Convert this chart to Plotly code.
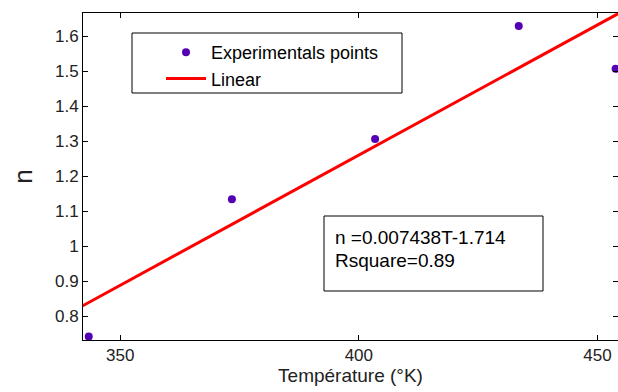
import plotly.graph_objects as go

# data
temperature = [343.4, 373.4, 403.4, 433.5, 453.8]
n_values = [0.743, 1.135, 1.307, 1.630, 1.508]
fit_slope = 0.007438
fit_intercept = -1.714
fit_T = [342, 455]
fit_n = [fit_slope * t + fit_intercept for t in fit_T]
x_ticks = [350, 400, 450]
y_ticks = [0.8, 0.9, 1.0, 1.1, 1.2, 1.3, 1.4, 1.5, 1.6]

FONT = "Liberation Sans, Arial, sans-serif"

# plot area at x 83..618, y 13..340 of the 618x392 page
W, H = 618, 392
L, R, T, B = 83, 0, 13, 52
PW, PH = W - L - R, H - T - B


def px_x(x):
    return (x - L) / PW


def px_y(y):
    return (H - B - y) / PH


fig = go.Figure()
fig.add_trace(go.Scatter(x=temperature, y=n_values, mode="markers",
                         name="Experimentals points",
                         marker=dict(color="#5400b4", size=8)))
fig.add_trace(go.Scatter(x=fit_T, y=fit_n, mode="lines", name="Linear",
                         line=dict(color="#ff0000", width=3)))

axis_common = dict(showline=True, linecolor="black", linewidth=1, mirror="ticks",
                   ticks="inside", ticklen=5, tickcolor="black", showgrid=False,
                   zeroline=False, automargin=False,
                   tickfont=dict(family=FONT, size=17, color="#222"))

fig.update_xaxes(range=[342.2, 454.3], tickvals=x_ticks, ticktext=[str(v) for v in x_ticks],
                 title=dict(text="Température (°K)", font=dict(family=FONT, size=19, color="#222"),
                            standoff=4),
                 **axis_common)
fig.update_yaxes(range=[0.733, 1.667], tickvals=y_ticks,
                 ticktext=[f"{v:g}" for v in y_ticks],
                 title=dict(text="n", font=dict(family=FONT, size=26, color="#222"), standoff=14),
                 **axis_common)

# legend frame
fig.add_shape(type="rect", xref="paper", yref="paper", x0=px_x(132), x1=px_x(402),
              y0=px_y(93), y1=px_y(33),
              line=dict(color="black", width=1), fillcolor="white", layer="below")
# text box
fig.add_shape(type="rect", xref="paper", yref="paper", x0=px_x(324), x1=px_x(543),
              y0=px_y(291), y1=px_y(216),
              line=dict(color="black", width=1))
fig.add_annotation(xref="paper", yref="paper", x=px_x(333), y=px_y(237), xanchor="left",
                   yanchor="middle", text="n =0.007438T-1.714", showarrow=False,
                   font=dict(family=FONT, size=19, color="black"))
fig.add_annotation(xref="paper", yref="paper", x=px_x(333), y=px_y(260), xanchor="left",
                   yanchor="middle", text="Rsquare=0.89", showarrow=False,
                   font=dict(family=FONT, size=19, color="black"))

fig.update_layout(width=W, height=H, margin=dict(l=L, r=R, t=T, b=B, autoexpand=False),
                  plot_bgcolor="white", paper_bgcolor="white",
                  legend=dict(x=px_x(161), y=px_y(34), xanchor="left", yanchor="top",
                              bgcolor="rgba(0,0,0,0)", borderwidth=0,
                              font=dict(family=FONT, size=18, color="black"),
                              tracegroupgap=0, itemwidth=40))

fig.write_html("out.html", config={"displayModeBar": False},
               post_script="document.body.style.margin='0';document.body.style.overflow='hidden';")
